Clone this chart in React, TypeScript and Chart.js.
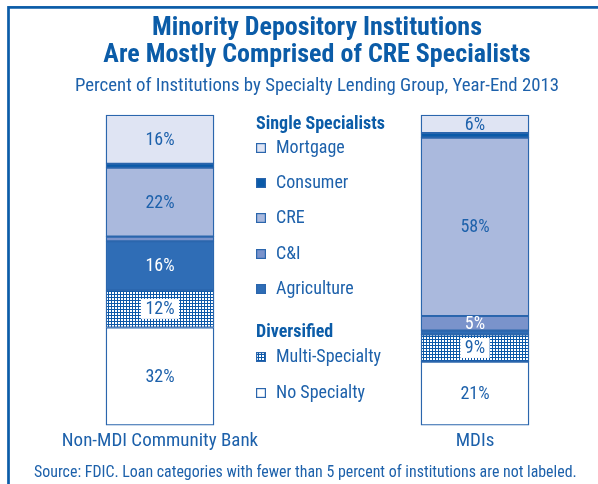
import React, { useEffect, useRef } from "react";
import { Chart, registerables } from "chart.js";

Chart.register(...registerables);

// ---- data ----
const categories = ["Non-MDI Community Bank", "MDIs"];
const seriesNames = ["No Specialty", "Multi-Specialty", "Agriculture", "C&I", "CRE", "Consumer", "Mortgage"];
const noSpecialty = [31.5, 20.5];
const multiSpecialty = [12.0, 8.8];
const agriculture = [15.8, 1.2];
const cni = [1.5, 4.7];
const cre = [22.2, 57.5];
const consumer = [1.3, 1.5];
const mortgage = [15.7, 5.8];

const titleLines = ["Minority Depository Institutions", "Are Mostly Comprised of CRE Specialists"];
const subtitleText = "Percent of Institutions by Specialty Lending Group, Year-End 2013";
const sourceText = "Source: FDIC. Loan categories with fewer than 5 percent of institutions are not labeled.";
const singleHeader = "Single Specialists";
const singleItems = ["Mortgage", "Consumer", "CRE", "C&I", "Agriculture"];
const diversifiedHeader = "Diversified";
const diversifiedItems = ["Multi-Specialty", "No Specialty"];

// ---- styles ----
const FONT = '"Roboto Condensed", "Liberation Sans", sans-serif';
const BLUE = "#0b5ca8";
const TEXT_BLUE = "#1d61ab";
const EDGE = "#2b66ad";

function makePattern(): CanvasPattern | string {
  const c = document.createElement("canvas");
  c.width = 3;
  c.height = 3;
  const g = c.getContext("2d");
  if (!g) return BLUE;
  g.fillStyle = "#0c58a8";
  g.fillRect(0, 0, 3, 3);
  g.fillStyle = "#ffffff";
  g.fillRect(1, 1, 2, 2);
  const ctx = document.createElement("canvas").getContext("2d")!;
  return ctx.createPattern(c, "repeat") || BLUE;
}

export default function App() {
  const ref = useRef<HTMLCanvasElement | null>(null);

  useEffect(() => {
    if (!ref.current) return;
    const pattern = makePattern();
    const colors: Record<string, any> = {
      "No Specialty": "#ffffff",
      "Multi-Specialty": pattern,
      Agriculture: "#2f6db6",
      "C&I": "#7a93cb",
      CRE: "#aab9dd",
      Consumer: "#0a5aa8",
      Mortgage: "#dfe4f3",
    };
    const labelColors: Record<string, string> = {
      Agriculture: "#ffffff",
      "C&I": "#ffffff",
    };
    const values: Record<string, number[]> = {
      "No Specialty": noSpecialty,
      "Multi-Specialty": multiSpecialty,
      Agriculture: agriculture,
      "C&I": cni,
      CRE: cre,
      Consumer: consumer,
      Mortgage: mortgage,
    };

    const framePlugin = {
      id: "frame",
      beforeDraw(chart: any) {
        const ctx = chart.ctx;
        ctx.save();
        ctx.fillStyle = "#ffffff";
        ctx.fillRect(0, 0, chart.width, chart.height);
        ctx.strokeStyle = BLUE;
        ctx.lineWidth = 2.7;
        ctx.strokeRect(8.5, 7.4, 700, 600);
        ctx.restore();
      },
    };

    const barLabels = {
      id: "barLabels",
      afterDatasetsDraw(chart: any) {
        const ctx = chart.ctx;
        ctx.save();
        ctx.font = `18px ${FONT}`;
        ctx.textAlign = "center";
        ctx.textBaseline = "middle";
        chart.data.datasets.forEach((ds: any, i: number) => {
          const meta = chart.getDatasetMeta(i);
          meta.data.forEach((el: any, j: number) => {
            const v = ds.data[j] as number;
            const r = Math.round(v);
            if (r < 5) return;
            const p = el.getProps(["x", "y", "base"], true);
            const cy = (p.y + p.base) / 2;
            const txt = `${r}%`;
            if (ds.label === "Multi-Specialty") {
              const w = ctx.measureText(txt).width + 9;
              ctx.fillStyle = "#ffffff";
              ctx.fillRect(p.x - w / 2, cy - 10, w, 20);
            }
            ctx.fillStyle = labelColors[ds.label] || TEXT_BLUE;
            ctx.fillText(txt, p.x, cy + 1);
          });
        });
        ctx.restore();
      },
    };

    const legendPlugin = {
      id: "customLegend",
      afterDraw(chart: any) {
        const ctx = chart.ctx;
        ctx.save();
        ctx.textBaseline = "middle";
        ctx.textAlign = "left";
        const x0 = 256;
        const drawHeader = (t: string, y: number) => {
          ctx.font = `bold 18px ${FONT}`;
          ctx.fillStyle = BLUE;
          ctx.fillText(t, x0, y);
        };
        const drawItem = (t: string, y: number) => {
          ctx.fillStyle = colors[t];
          ctx.fillRect(x0, y - 5, 10, 10);
          ctx.strokeStyle = EDGE;
          ctx.lineWidth = 1.2;
          ctx.strokeRect(x0 + 0.6, y - 4.4, 8.8, 8.8);
          ctx.font = `18px ${FONT}`;
          ctx.fillStyle = TEXT_BLUE;
          ctx.fillText(t, x0 + 20, y);
        };
        drawHeader(singleHeader, 124);
        const ys = [148, 183, 218, 254, 289];
        singleItems.forEach((t, k) => drawItem(t, ys[k]));
        drawHeader(diversifiedHeader, 332);
        const ys2 = [357, 393];
        diversifiedItems.forEach((t, k) => drawItem(t, ys2[k]));
        // source
        ctx.font = `15.9px ${FONT}`;
        ctx.fillStyle = TEXT_BLUE;
        ctx.textAlign = "left";
        ctx.textBaseline = "alphabetic";
        ctx.fillText(sourceText, 34, 477);
        ctx.restore();
      },
    };

    const sideAxis = (pos: "left" | "right", width: number) => ({
      position: pos,
      display: true,
      min: 0,
      max: 100,
      grid: { display: false, drawTicks: false },
      border: { display: false },
      ticks: { display: false },
      afterFit: (s: any) => {
        s.width = width;
      },
    });

    const chart = new Chart(ref.current, {
      type: "bar",
      data: {
        labels: categories,
        datasets: seriesNames.map((name) => ({
          label: name,
          data: values[name],
          backgroundColor: colors[name],
          borderColor: EDGE,
          borderWidth: 1.4,
          borderSkipped: false,
          barThickness: 108,
          clip: false as any,
          yAxisID: "y",
        })),
      },
      options: {
        animation: false,
        responsive: false,
        maintainAspectRatio: false,
        layout: { padding: { left: 36, right: 0, top: 0, bottom: 26 } },
        plugins: {
          legend: { display: false },
          tooltip: { enabled: false },
          title: {
            display: true,
            text: titleLines,
            color: BLUE,
            font: { family: FONT, size: 26, weight: "bold", lineHeight: 1.04 },
            padding: { top: 14.6, bottom: 2 },
          },
          subtitle: {
            display: true,
            text: subtitleText,
            color: TEXT_BLUE,
            font: { family: FONT, size: 18.8, lineHeight: 1.2 },
            padding: { top: 4.7, bottom: 17.1 },
          },
        },
        scales: {
          x: {
            stacked: true,
            offset: false,
            grid: { display: false, drawTicks: false },
            border: { display: false },
            ticks: {
              color: TEXT_BLUE,
              font: { family: FONT, size: 19 },
              padding: 5,
              maxRotation: 0,
              autoSkip: false,
            },
          },
          y: { ...sideAxis("left", 124), stacked: true },
          y2: sideAxis("right", 123),
        } as any,
      },
      plugins: [framePlugin, barLabels, legendPlugin],
    });
    return () => chart.destroy();
  }, []);

  return (
    <div style={{ position: "fixed", left: 0, top: 0, width: 598, height: 484, background: "#fff" }}>
      <canvas ref={ref} width={598} height={484} style={{ display: "block", width: 598, height: 484 }} />
    </div>
  );
}
